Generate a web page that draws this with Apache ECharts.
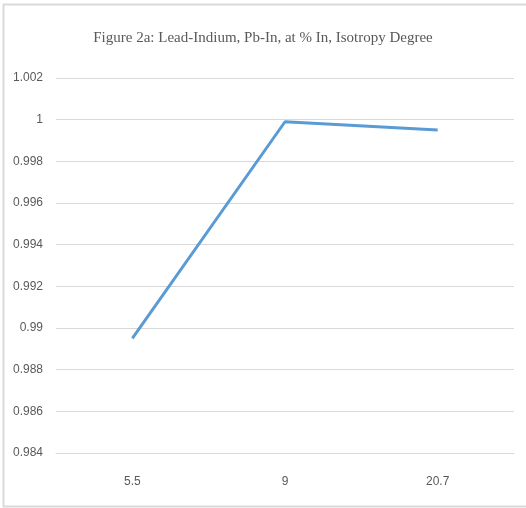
<!DOCTYPE html>
<html>
<head>
<meta charset="utf-8">
<script src="https://cdn.jsdelivr.net/npm/echarts@6/dist/echarts.min.js"></script>
<style>
  html, body { margin: 0; padding: 0; background: #fff; }
  #isoChart { width: 526px; height: 508px; }
</style>
</head>
<body>
<div id="isoChart"></div>
<script>
// at % In
const categories = ["5.5", "9", "20.7"];
// isotropy degree
const isotropy = [0.9895, 0.9999, 0.9995];
const yMin = 0.984;
const yMax = 1.002;
const yStep = 0.002;

const chart = echarts.init(document.getElementById("isoChart"));
const labelColor = "#595959";

const option = {
  animation: false,
  title: {
    text: "Figure 2a: Lead-Indium, Pb-In, at % In, Isotropy Degree",
    left: "center",
    top: 26,
    textStyle: {
      color: labelColor,
      fontFamily: "Liberation Serif",
      fontWeight: "normal",
      fontSize: 15,
    },
  },
  grid: {
    left: 56,
    right: 12,
    top: 78,
    bottom: 55,
  },
  xAxis: {
    type: "category",
    data: categories,
    axisLine: { show: true, lineStyle: { color: "#d9d9d9", width: 1 } },
    axisTick: { show: false },
    axisLabel: {
      color: labelColor,
      fontFamily: "Liberation Sans",
      fontSize: 12,
      margin: 23,
    },
  },
  yAxis: {
    type: "value",
    min: yMin,
    max: yMax,
    interval: yStep,
    axisLine: { show: false },
    axisTick: { show: false },
    axisLabel: {
      color: labelColor,
      fontFamily: "Liberation Sans",
      fontSize: 12,
      margin: 13,
      formatter: (v) => String(parseFloat(v.toFixed(3))),
    },
    splitLine: { show: true, lineStyle: { color: "#d9d9d9", width: 1 } },
  },
  graphic: [
    {
      type: "rect",
      shape: { x: 3.5, y: 4.5, width: 540, height: 502 },
      style: { fill: "none", stroke: "#d9d9d9", lineWidth: 2 },
      silent: true,
    },
  ],
  series: [
    {
      type: "line",
      data: isotropy,
      showSymbol: false,
      symbol: "none",
      lineStyle: { color: "#5b9bd5", width: 3 },
    },
  ],
};

chart.setOption(option);
</script>
</body>
</html>
